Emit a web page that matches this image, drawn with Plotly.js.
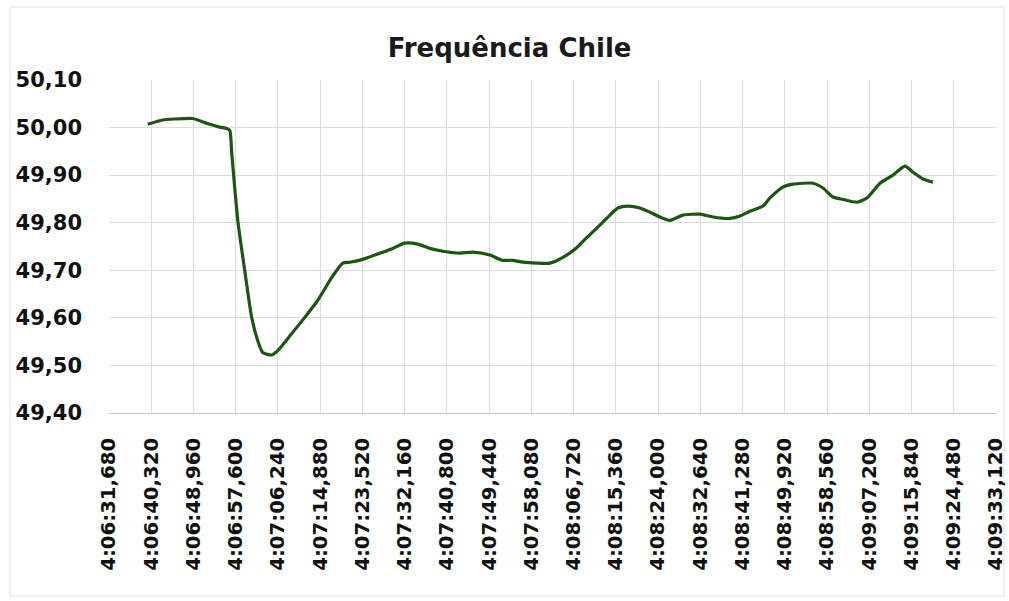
<!DOCTYPE html>
<html>
<head>
<meta charset="utf-8">
<script src="https://cdn.plot.ly/plotly-3.0.1.min.js"></script>
<style>html,body{margin:0;padding:0;background:#fff;}#chart{width:1009px;height:601px;}</style>
</head>
<body>
<div id="chart"></div>
<script>
// time in seconds after 4:06:00
const tSec = [39.60, 42.67, 45.12, 48.81, 49.83, 52.29, 54.33, 55.77, 56.39, 56.79, 58.02, 59.45, 60.88, 62.11, 63.13, 64.98, 66.20, 69.07, 71.73, 74.39, 77.25, 79.50, 80.94, 83.60, 87.08, 89.74, 92.19, 94.85, 97.31, 99.97, 103.45, 106.11, 109.59, 112.05, 114.30, 116.35, 119.21, 121.87, 124.53, 127.40, 129.44, 132.10, 134.15, 135.78, 137.83, 140.29, 142.33, 144.38, 146.43, 149.09, 152.57, 155.23, 158.71, 160.75, 162.80, 165.46, 166.88, 169.54, 171.59, 175.68, 177.73, 179.78, 181.82, 184.69, 186.73, 189.39, 192.05, 194.51, 196.15, 198.19, 200.24];
const freq = [50.007, 50.016, 50.018, 50.019, 50.016, 50.007, 50.001, 49.998, 49.994, 49.946, 49.805, 49.699, 49.600, 49.552, 49.527, 49.522, 49.531, 49.567, 49.601, 49.637, 49.685, 49.715, 49.717, 49.723, 49.736, 49.746, 49.757, 49.755, 49.746, 49.740, 49.736, 49.738, 49.732, 49.721, 49.721, 49.717, 49.715, 49.715, 49.727, 49.748, 49.769, 49.795, 49.816, 49.831, 49.835, 49.831, 49.822, 49.812, 49.805, 49.816, 49.818, 49.812, 49.809, 49.814, 49.824, 49.835, 49.852, 49.875, 49.881, 49.883, 49.873, 49.854, 49.849, 49.843, 49.852, 49.883, 49.900, 49.919, 49.906, 49.892, 49.885];

const xTickVals = [31.68, 40.32, 48.96, 57.60, 66.24, 74.88, 83.52, 92.16, 100.80, 109.44, 118.08, 126.72, 135.36, 144.00, 152.64, 161.28, 169.92, 178.56, 187.20, 195.84, 204.48, 213.12];
const xTickText = ["4:06:31,680", "4:06:40,320", "4:06:48,960", "4:06:57,600", "4:07:06,240", "4:07:14,880", "4:07:23,520", "4:07:32,160", "4:07:40,800", "4:07:49,440", "4:07:58,080", "4:08:06,720", "4:08:15,360", "4:08:24,000", "4:08:32,640", "4:08:41,280", "4:08:49,920", "4:08:58,560", "4:09:07,200", "4:09:15,840", "4:09:24,480", "4:09:33,120"];
const yTickVals = [49.40, 49.50, 49.60, 49.70, 49.80, 49.90, 50.00, 50.10];
const yTickText = ["49,40", "49,50", "49,60", "49,70", "49,80", "49,90", "50,00", "50,10"];

const trace = {
  x: tSec, y: freq, type: 'scatter', mode: 'lines',
  line: {color: '#1f5514', width: 3.2, shape: 'spline', smoothing: 0.6},
  hoverinfo: 'skip'
};

const layout = {
  width: 1009, height: 601,
  margin: {l: 109, r: 13, t: 80, b: 188, pad: 0},
  paper_bgcolor: '#fff', plot_bgcolor: '#fff',
  showlegend: false,
  title: {
    text: 'Frequência Chile',
    font: {family: 'DejaVu Sans', size: 26, color: '#1a1a1a', weight: 'bold'},
    x: 0.505, xref: 'container', xanchor: 'center',
    y: 1 - 48/601, yref: 'container', yanchor: 'middle'
  },
  xaxis: {
    range: [31.68, 213.12], tickmode: 'array', tickvals: xTickVals, ticktext: xTickText,
    tickangle: -90, showgrid: true, gridcolor: '#dcdcdc', gridwidth: 1,
    zeroline: false, showline: true, linecolor: '#c8c8c8', linewidth: 1,
    ticks: '', ticklabelstandoff: 16, automargin: false,
    tickfont: {family: 'DejaVu Sans', size: 19.7, color: '#111', weight: 'bold'}
  },
  yaxis: {
    range: [49.40, 50.10], tickmode: 'array', tickvals: yTickVals, ticktext: yTickText,
    showgrid: true, gridcolor: '#dcdcdc', gridwidth: 1, zeroline: false,
    showline: false, ticks: '', ticklabelstandoff: 26, automargin: false,
    tickfont: {family: 'DejaVu Sans', size: 21, color: '#111', weight: 'bold'}
  },
  shapes: [{
    type: 'rect', xref: 'paper', yref: 'paper',
    x0: (10 - 109) / 887, x1: (1004 - 109) / 887,
    y0: (413 - 596) / 333, y1: (413 - 7) / 333,
    line: {color: '#e2e2e2', width: 1}, fillcolor: 'rgba(0,0,0,0)', layer: 'below'
  }]
};

Plotly.newPlot('chart', [trace], layout, {displayModeBar: false, staticPlot: true});
</script>
</body>
</html>
